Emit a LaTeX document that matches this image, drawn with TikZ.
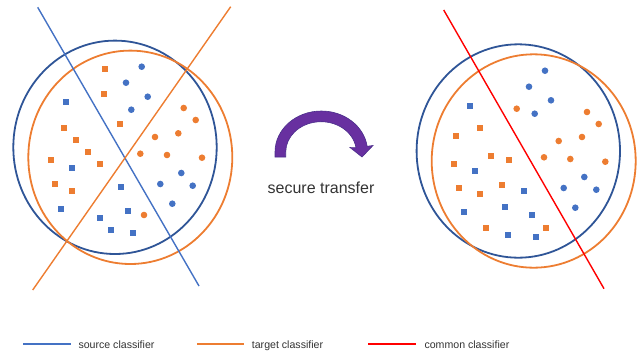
\documentclass[tikz,border=0pt]{standalone}
\usepackage{fontspec}
\setmainfont{Liberation Sans}
\definecolor{cblue}{HTML}{4472C4}
\definecolor{corange}{HTML}{ED7D31}
\definecolor{cnavy}{HTML}{2F5597}
\definecolor{cred}{HTML}{FF0000}
\definecolor{cpurple}{HTML}{6830A0}
\definecolor{cpurpledark}{HTML}{4A2E8A}
\definecolor{ctext}{HTML}{333333}
\begin{document}
\begin{tikzpicture}[x=1pt,y=-1pt,
  sq/.style={rectangle, fill=#1, minimum size=6.2pt, inner sep=0pt},
  dot/.style={circle, fill=#1, minimum size=6.6pt, inner sep=0pt},
  ring/.style={draw=#1, line width=1.8pt},
  classline/.style={draw=#1, line width=1.4pt},
  legline/.style={draw=#1, line width=1.5pt},
  legtext/.style={anchor=base west, font=\fontsize{10.6}{12}\selectfont, text=ctext, inner sep=0pt}]
\useasboundingbox (0,0) rectangle (637,354);

% ---------- left panel ----------
\draw[ring=cnavy] (115,147.3) ellipse [x radius=101.7, y radius=106.7];
\draw[ring=corange] (130.3,157.3) ellipse [x radius=102, y radius=106.7];

\foreach \x/\y [count=\i] in {104.7/69, 104/94, 120.3/123.7, 64.3/127.7, 76/140, 88/152, 99.7/164.3, 51/160.3, 55.3/184.3, 71.7/191}
  \node[sq=corange] (lo\i) at (\x,\y) {};
\foreach \x/\y [count=\i] in {66.3/102.3, 71.7/167.7, 60.7/208.7, 120.7/187, 128.3/211, 99.7/217.7, 111.3/229.7, 132.7/233.3}
  \node[sq=cblue] (lb\i) at (\x,\y) {};
\foreach \x/\y [count=\i] in {141.7/66.7, 126/82.7, 147.7/96.7, 131.3/109.7, 181.3/173, 160.3/184, 192.7/185.7, 172.3/203.7}
  \node[dot=cblue] (lc\i) at (\x,\y) {};
\foreach \x/\y [count=\i] in {183.7/108, 195.7/120, 155/137, 178.3/133.3, 140.3/153.7, 167/155, 202/157.7, 144/215}
  \node[dot=corange] (ld\i) at (\x,\y) {};

\coordinate (s1) at (37.7,7.3);
\coordinate (s2) at (199,286);
\coordinate (t1) at (230.7,6.7);
\coordinate (t2) at (32.7,290);
\draw[classline=cblue] (s1) -- (s2);
\draw[classline=corange] (t1) -- (t2);

% ---------- right panel ----------
\draw[ring=cnavy] (518.3,151) ellipse [x radius=101.7, y radius=106.7];
\draw[ring=corange] (533.7,161) ellipse [x radius=102, y radius=106.7];

\foreach \x/\y [count=\i] in {545/70.7, 529/86.7, 551/100.3, 534.7/113.7, 584.3/177, 563.7/188, 596.3/189.7, 575.3/207.7}
  \node[dot=cblue] (rc\i) at (\x,\y) {};
\foreach \x/\y [count=\i] in {516.7/108.7, 587/112, 598.7/124, 558.7/141, 582/137, 544/157.3, 570.3/159, 605.3/161.7}
  \node[dot=corange] (rd\i) at (\x,\y) {};
\foreach \x/\y [count=\i] in {469.7/106, 474.7/171.3, 523.7/191, 464/212.3, 504.7/207, 532/215, 508/235, 536/237.3}
  \node[sq=cblue] (rb\i) at (\x,\y) {};
\foreach \x/\y [count=\i] in {480/127.7, 456.3/135.7, 491.3/155.7, 509.3/160, 454.3/163.7, 458.7/188.3, 502.3/185, 480/193.7, 485.7/228, 546.3/228}
  \node[sq=corange] (ro\i) at (\x,\y) {};

\coordinate (c1) at (443.7,10);
\coordinate (c2) at (604,288.7);
\draw[classline=cred] (c1) -- (c2);

% ---------- transfer arrow ----------
\fill[cpurple, draw=cpurpledark, line width=0.6pt]
  (275,157) -- (275,152)
  arc[start angle=180, end angle=352, x radius=46.3, y radius=41]
  -- (373,145.5) -- (362,157) -- (350,147.5) -- (356,147.8)
  arc[start angle=352, end angle=180, x radius=35.3, y radius=30.3]
  -- (285.7,157) -- cycle;
\node[anchor=base, font=\fontsize{16}{19}\selectfont, text=ctext, inner sep=0pt] (tr) at (321,193.3) {secure transfer};

% ---------- legend ----------
\coordinate (l1a) at (23.3,344);  \coordinate (l1b) at (70.7,344);
\coordinate (l2a) at (197.3,344); \coordinate (l2b) at (244.3,344);
\coordinate (l3a) at (368.3,344); \coordinate (l3b) at (415.7,344);
\draw[legline=cblue] (l1a) -- (l1b);
\draw[legline=corange] (l2a) -- (l2b);
\draw[legline=cred] (l3a) -- (l3b);
\node[legtext] (lt1) at (78.3,348) {source classifier};
\node[legtext] (lt2) at (251.7,348) {target classifier};
\node[legtext] (lt3) at (424.3,348) {common classifier};
\end{tikzpicture}
\end{document}
